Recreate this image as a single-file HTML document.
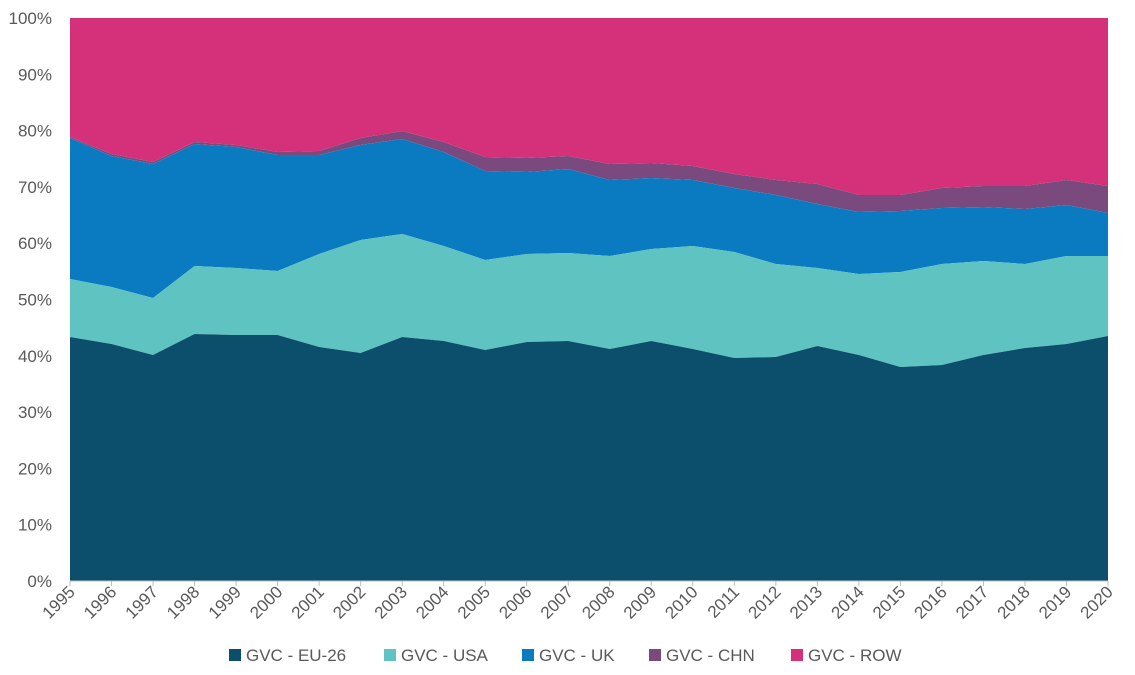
<!DOCTYPE html>
<html><head><meta charset="utf-8"><style>
html,body{margin:0;padding:0;background:#fff;width:1135px;height:675px;overflow:hidden}
text{font-family:"Liberation Sans",sans-serif;fill:#595959}
</style></head><body>
<svg id="s" width="1135" height="675" xmlns="http://www.w3.org/2000/svg"></svg>
<script>
(function(){
const s=document.getElementById('s');
const x0=70,dx=(1108-70)/25,yb=581,yt=18;
const eu=[337,344,355,334,335,335,347,353,337,341,350,342,341,349,341,349,358,357,346,355,367,365,355,348,344,336];
const us=[279,287,298,266,268,271,254,240,234,246,260,254,253,256,249,246,252,264,268,274,272,264,261,264,256,256];
const uk=[138,156,164,144,147,155,155,145,139,152,171,172,169,180,178,180,188,195,204,212,211,208,207,209,205,213];
const cn=[137,154,162,142,145,152,151,138,131,142,157,158,156,164,163,166,174,180,184,195,195,188,186,186,180,186];
const tp=Array(26).fill(yt),bt=Array(26).fill(yb);
let h='';
function area(up,lo,c){let p='M';for(let i=0;i<26;i++)p+=(x0+i*dx).toFixed(1)+','+up[i]+' L';for(let i=25;i>=0;i--)p+=(x0+i*dx).toFixed(1)+','+lo[i]+(i?' L':' Z');h+='<path d="'+p+'" fill="'+c+'"/>';}
area(tp,cn,'#d4317a');area(cn,uk,'#7a4a7e');area(uk,us,'#0a7bc1');area(us,eu,'#5fc4c1');area(eu,bt,'#0b4f6c');
h+='<line x1="'+x0+'" y1="'+yb+'" x2="1108" y2="'+yb+'" stroke="#bfbfbf"/>';
for(let i=0;i<=10;i++){const y=yb-i*(yb-yt)/10;h+='<text x="52" y="'+(y+6)+'" font-size="17" text-anchor="end">'+(i*10)+'%</text>';}
for(let i=0;i<26;i++){const x=x0+i*dx;h+='<line x1="'+x+'" y1="'+yb+'" x2="'+x+'" y2="'+(yb+5)+'" stroke="#bfbfbf"/><text transform="translate('+(x+6)+','+(yb+12)+') rotate(-45)" font-size="17" text-anchor="end">'+(1995+i)+'</text>';}
const lg=[['GVC - EU-26','#0b4f6c',229],['GVC - USA','#5fc4c1',384],['GVC - UK','#0a7bc1',522],['GVC - CHN','#7a4a7e',649],['GVC - ROW','#d4317a',791]];
for(const a of lg){h+='<rect x="'+a[2]+'" y="649" width="12" height="12" fill="'+a[1]+'"/><text x="'+(a[2]+17)+'" y="661" font-size="17">'+a[0]+'</text>';}
s.innerHTML=h;
})();
</script>
</body></html>
